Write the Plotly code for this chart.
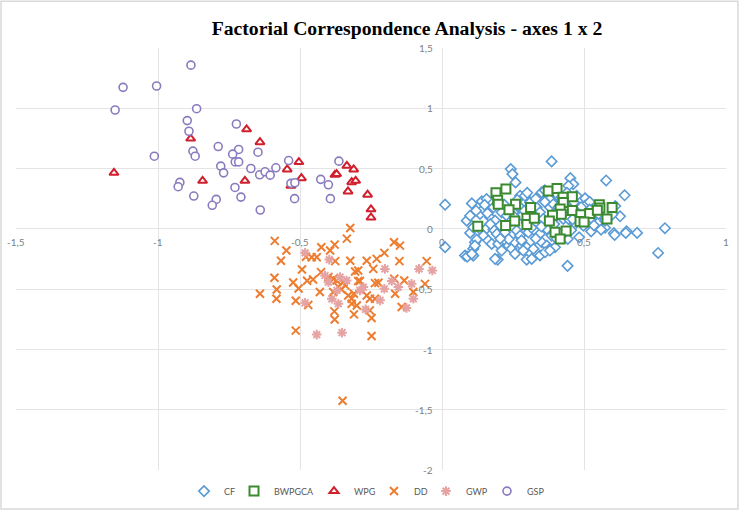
import plotly.graph_objects as go

# ---------------- data ----------------
CF_x = [0.011, 0.011, 0.386, 0.242, 0.248, 0.259, 0.452, 0.462, 0.578, 0.643, 0.785, 0.761, 0.687, 0.650,
        0.647, 0.605, 0.608, 0.627, 0.574, 0.551, 0.525, 0.483, 0.504, 0.442, 0.081, 0.089, 0.110, 0.196,
        0.298, 0.316, 0.105, 0.087, 0.099, 0.443,
        0.275, 0.292, 0.310, 0.345, 0.351, 0.380, 0.404, 0.445, 0.140, 0.157, 0.181, 0.134, 0.146, 0.169,
        0.187, 0.210, 0.228, 0.251, 0.275, 0.281, 0.333, 0.345, 0.357, 0.380, 0.398, 0.427, 0.439, 0.134,
        0.157, 0.181, 0.146, 0.193, 0.222, 0.263, 0.275, 0.304, 0.327, 0.345, 0.369, 0.386, 0.404, 0.427,
        0.116, 0.163, 0.175, 0.198, 0.110, 0.234, 0.245, 0.257, 0.281, 0.298, 0.322, 0.351, 0.369, 0.380,
        0.398, 0.105, 0.187, 0.210, 0.257, 0.286, 0.345, 0.363, 0.380,
        0.474, 0.445, 0.504, 0.480, 0.551, 0.445, 0.468, 0.498, 0.574, 0.099, 0.120, 0.110, 0.122, 0.116,
        0.300, 0.265, 0.330, 0.362, 0.400, 0.420, 0.440, 0.465, 0.490, 0.520, 0.392, 0.318, 0.300, 0.240,
        0.205, 0.170, 0.350, 0.395, 0.455, 0.220, 0.160, 0.290, 0.235, 0.330, 0.280, 0.205, 0.150, 0.525,
        0.600, 0.535, 0.560, 0.470, 0.410, 0.255, 0.315, 0.362, 0.415, 0.460, 0.520, 0.610]
CF_y = [0.201, -0.151, 0.560, 0.496, 0.455, 0.386, 0.421, 0.372, 0.402, 0.279, 0.006, -0.199, -0.033, -0.019,
        -0.033, -0.035, -0.050, 0.105, 0.010, 0.055, -0.020, -0.069, 0.254, -0.306, -0.221, -0.229, -0.221, -0.254,
        -0.254, -0.248, 0.212, 0.069, -0.033, -0.083,
        0.275, 0.275, 0.220, 0.275, 0.303, 0.248, 0.275, 0.358, 0.229, 0.248, 0.179, 0.124, 0.165, 0.096,
        0.069, 0.138, 0.110, 0.138, 0.179, 0.110, 0.179, 0.138, 0.083, 0.179, 0.138, 0.083, 0.110, 0.000,
        0.005, -0.004, -0.055, -0.041, -0.028, -0.014, -0.055, -0.028, -0.014, -0.041, 0.000, -0.055, -0.083, -0.041,
        -0.110, -0.096, -0.124, -0.124, -0.165, -0.138, -0.165, -0.110, -0.138, -0.152, -0.165, -0.110, -0.138, -0.165,
        -0.152, -0.207, -0.248, -0.179, -0.207, -0.179, -0.220, -0.193, -0.179,
        0.275, 0.165, 0.193, 0.110, 0.124, 0.083, 0.041, 0.028, 0.069, 0.110, 0.151, 0.014, -0.088, -0.138,
        0.300, 0.240, 0.250, 0.320, 0.300, 0.240, 0.300, 0.220, 0.180, 0.225, 0.205, 0.125, 0.050, 0.060,
        0.030, 0.040, 0.020, 0.040, -0.010, 0.200, 0.130, 0.150, -0.085, -0.080, -0.095, -0.080, 0.200, 0.090,
        0.120, 0.030, -0.005, 0.150, 0.180, 0.100, 0.010, 0.225, -0.040, 0.080, 0.160, 0.190]

BWPGCA_x = [0.190, 0.225, 0.196, 0.198, 0.259, 0.236, 0.312, 0.256, 0.224, 0.126, 0.299, 0.299, 0.325, 0.374,
            0.405, 0.426, 0.459, 0.427, 0.416, 0.420, 0.389, 0.459, 0.378, 0.398, 0.437, 0.416, 0.489, 0.520,
            0.486, 0.500, 0.554, 0.556, 0.547, 0.599, 0.581]
BWPGCA_y = [0.300, 0.331, 0.238, 0.204, 0.204, 0.160, 0.178, 0.066, 0.028, 0.022, 0.088, 0.036, 0.088, 0.314,
            0.336, 0.262, 0.267, 0.220, 0.165, 0.121, 0.113, 0.152, 0.065, -0.028, -0.016, -0.083, 0.118, 0.129,
            0.062, 0.058, 0.200, 0.174, 0.154, 0.177, 0.083]

WPG_x = [-0.688, -0.885, -0.641, -1.155, -0.843, -0.694, -0.545, -0.504, -0.495, -0.532, -0.377, -0.371,
         -0.335, -0.311, -0.318, -0.304, -0.331, -0.262, -0.250, -0.250]
WPG_y = [0.826, 0.749, 0.719, 0.465, 0.399, 0.399, 0.493, 0.554, 0.421, 0.358, 0.449, 0.455,
         0.523, 0.493, 0.388, 0.399, 0.311, 0.284, 0.163, 0.095]

DD_x = [-0.323, -0.335, -0.589, -0.548, -0.567, -0.425, -0.394, -0.378, -0.493, -0.323, -0.265, -0.590,
        -0.524, -0.505, -0.582, -0.583, -0.641, -0.515, -0.475, -0.454, -0.471, -0.430, -0.515, -0.350,
        -0.379, -0.378, -0.310, -0.479, -0.459, -0.441, -0.376, -0.426, -0.169, -0.148, -0.203, -0.230,
        -0.150, -0.054, -0.295, -0.306, -0.242, -0.295, -0.289, -0.236, -0.224, -0.168, -0.133, -0.060,
        -0.101, -0.165, -0.318, -0.310, -0.265, -0.254, -0.236, -0.318, -0.300, -0.254, -0.248, -0.142,
        -0.248, -0.383, -0.371, -0.347, -0.383, -0.330, -0.400, -0.355, -0.340, -0.365]
DD_y = [0.008, -0.080, -0.099, -0.179, -0.264, -0.151, -0.179, -0.130, -0.336, -0.264, -0.264, -0.405,
        -0.444, -0.493, -0.502, -0.579, -0.537, -0.595, -0.430, -0.419, -0.631, -0.523, -0.843, -1.424,
        -0.683, -0.750, -0.708, -0.231, -0.234, -0.234, -0.267, -0.358, -0.110, -0.138, -0.198, -0.248,
        -0.267, -0.267, -0.344, -0.353, -0.331, -0.432, -0.432, -0.449, -0.446, -0.413, -0.427, -0.455,
        -0.523, -0.537, -0.579, -0.537, -0.551, -0.579, -0.579, -0.620, -0.634, -0.675, -0.738, -0.647,
        -0.887, -0.413, -0.427, -0.441, -0.523, -0.551, -0.399, -0.500, -0.470, -0.480]

GWP_x = [-0.482, -0.397, -0.482, -0.441, -0.352, -0.201, -0.081, -0.034, -0.336, -0.177, -0.107, -0.154,
         -0.203, -0.101, -0.289, -0.218, -0.269, -0.125, -0.412, -0.400, -0.359, -0.388, -0.365, -0.277, -0.370]
GWP_y = [-0.198, -0.254, -0.612, -0.876, -0.860, -0.331, -0.331, -0.344, -0.427, -0.432, -0.455, -0.482,
         -0.496, -0.579, -0.510, -0.592, -0.667, -0.655, -0.386, -0.441, -0.399, -0.579, -0.620, -0.482, -0.510]

GSP_x = [-0.884, -1.123, -1.005, -1.151, -0.864, -0.897, -0.891, -0.724, -1.013, -0.877, -0.869, -0.788,
         -0.716, -0.737, -0.648, -0.728, -0.716, -0.779, -0.769, -0.673, -0.642, -0.623, -0.605, -0.585,
         -0.540, -0.923, -0.929, -0.729, -0.874, -0.708, -0.795, -0.809, -0.640, -0.532, -0.518, -0.519,
         -0.427, -0.400, -0.363, -0.393]
GSP_y = [1.358, 1.174, 1.185, 0.986, 0.997, 0.898, 0.810, 0.870, 0.603, 0.645, 0.603, 0.683,
         0.659, 0.620, 0.636, 0.556, 0.556, 0.521, 0.465, 0.501, 0.449, 0.474, 0.446, 0.507,
         0.567, 0.386, 0.350, 0.344, 0.273, 0.264, 0.245, 0.196, 0.157, 0.378, 0.383, 0.251,
         0.411, 0.366, 0.562, 0.251]

x_ticks = [-1.5, -1.0, -0.5, 0.0, 0.5, 1.0]
x_tick_labels = ["-1,5", "-1", "-0,5", "0", "0,5", "1"]
y_ticks = [1.5, 1.0, 0.5, 0.0, -0.5, -1.0, -1.5, -2.0]
y_tick_labels = ["1,5", "1", "0,5", "0", "-0,5", "-1", "-1,5", "-2"]

TITLE = "Factorial Correspondence Analysis - axes 1 x 2"

# ---------------- layout constants (pixels) ----------------
W, H = 740, 514
ML, MR, MT, MB = 16, 14, 48, 8
PLOT_BOTTOM = 473          # pixel row of the x-axis domain bottom
LEGEND_Y = 494             # pixel row of legend centre
LEGEND_SYMBOL_X = [204, 254, 334, 394, 446, 507]   # legend symbol centres
pw, ph = W - ML - MR, H - MT - MB

series = [
    ("CF", CF_x, CF_y, "diamond", "white", "#5b9bd5", 8, 1.6),
    ("BWPGCA", BWPGCA_x, BWPGCA_y, "square", "white", "#3b8a2f", 9, 2),
    ("WPG", WPG_x, WPG_y, "triangle-up", "white", "#d0202e", 8, 2),
    ("DD", DD_x, DD_y, "x-thin-open", "#ed7d31", "#ed7d31", 8, 2),
    ("GWP", GWP_x, GWP_y, "asterisk-open", "#e6a3a3", "#e6a3a3", 8, 2),
    ("GSP", GSP_x, GSP_y, "circle", "white", "#8a7bbf", 8, 1.6),
]

fig = go.Figure()
legend_font = dict(family="Lato, Carlito, sans-serif", size=9, color="#595959")
legend_layouts = {}
for i, (name, xs, ys, sym, fill, line, size, lw) in enumerate(series):
    lid = "legend" if i == 0 else f"legend{i + 1}"
    fig.add_trace(go.Scatter(
        x=xs, y=ys, mode="markers", name=name, legend=lid,
        marker=dict(symbol=sym, color=fill if "open" not in sym else line, size=size,
                    line=dict(color=line, width=lw)),
    ))
    legend_layouts[lid] = dict(
        x=(LEGEND_SYMBOL_X[i] - 20 - ML) / pw, xanchor="left",
        y=(H - MB - LEGEND_Y) / ph, yanchor="middle",
        font=legend_font, itemwidth=30, bgcolor="rgba(0,0,0,0)", borderwidth=0,
    )

grid = "#e4e4e4"
fig.update_xaxes(range=[-1.5, 1.0], tickvals=x_ticks, showticklabels=False,
                 showgrid=True, gridcolor=grid, gridwidth=1, zeroline=True,
                 zerolinecolor=grid, zerolinewidth=1, showline=False, fixedrange=True)
fig.update_yaxes(range=[-2.0, 1.5], tickvals=y_ticks, showticklabels=False,
                 domain=[(H - MB - PLOT_BOTTOM) / ph, 1],
                 showgrid=True, gridcolor=grid, gridwidth=1, zeroline=True,
                 zerolinecolor=grid, zerolinewidth=1, showline=False, fixedrange=True)

tick_font = dict(family="Lato, Carlito, sans-serif", size=10, color="#7f7f7f")
for v, t in zip(x_ticks, x_tick_labels):
    fig.add_annotation(x=v, y=0, xref="x", yref="y", text=t, showarrow=False,
                       font=tick_font, xanchor="center", yanchor="middle", yshift=-13)
for v, t in zip(y_ticks, y_tick_labels):
    fig.add_annotation(x=0, y=v, xref="x", yref="y", text=t, showarrow=False,
                       font=tick_font, xanchor="right", yanchor="middle", xshift=-7)

# outer frame of the chart area
fig.add_shape(type="rect", xref="paper", yref="paper",
              x0=(1 - ML) / pw, x1=(W - 2 - ML) / pw,
              y0=(H - MB - (H - 2)) / ph, y1=(H - MB - 1) / ph,
              line=dict(color="#d9d9d9", width=1.5), fillcolor="rgba(0,0,0,0)", layer="below")

fig.update_layout(
    width=W, height=H,
    margin=dict(l=ML, r=MR, t=MT, b=MB, pad=0),
    paper_bgcolor="white", plot_bgcolor="white",
    title=dict(text="<b>" + TITLE + "</b>", x=407 / W, xanchor="center", y=1 - 28 / H, yanchor="middle",
               font=dict(family="Liberation Serif, Times New Roman, serif", size=19.7, color="#000000")),
    showlegend=True,
    **legend_layouts,
)

fig.write_html("out.html", config={"displayModeBar": False},
               post_script="document.body.style.margin='0';")
